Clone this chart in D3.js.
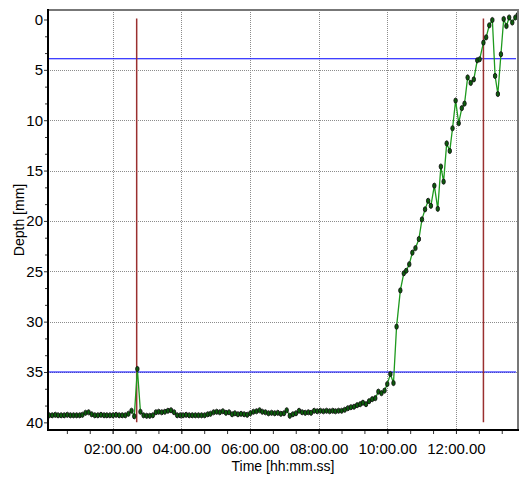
<!DOCTYPE html>
<html><head><meta charset="utf-8">
<script src="https://cdn.jsdelivr.net/npm/d3@7"></script>
<style>
html,body{margin:0;padding:0;background:#fff;}
svg{display:block;}
</style></head>
<body>
<svg id="chart" width="519" height="482"></svg>
<script>
// time in minutes
const times = [
0.15,0.24,0.33,0.41,0.50,0.59,0.68,0.77,0.86,0.95,1.04,1.12,1.21,1.30,1.39,1.48,1.57,1.66,1.75,1.83,
1.92,2.01,2.10,2.19,2.28,2.37,2.46,2.55,2.63,2.72,2.81,2.90,2.99,3.08,3.17,3.26,3.34,3.43,3.52,3.61,
3.70,3.79,3.88,3.97,4.05,4.14,4.23,4.32,4.41,4.50,4.59,4.68,4.77,4.85,4.94,5.03,5.12,5.21,5.30,5.39,
5.48,5.56,5.65,5.74,5.83,5.92,6.01,6.10,6.19,6.28,6.36,6.45,6.54,6.63,6.72,6.81,6.90,6.99,7.07,7.16,
7.25,7.34,7.43,7.52,7.61,7.70,7.78,7.87,7.96,8.05,8.14,8.23,8.32,8.41,8.49,8.58,8.67,8.76,8.85,8.94,
9.03,9.12,9.21,9.29,9.38,9.47,9.56,9.65,9.74,9.83,9.92,10.00,10.09,10.18,
10.27,10.38,10.48,10.55,10.64,10.73,10.82,10.92,11.01,11.10,11.19,11.27,11.37,11.47,11.56,11.64,11.73,11.82,11.90,11.99,
12.08,12.17,12.25,12.34,12.43,12.52,12.62,12.69,12.80,12.88,12.97,13.06,13.14,13.22,13.31,13.39,13.47,13.55,13.64,13.73,13.80
];
// depth in mm
const depths = [
39.3,39.3,39.25,39.3,39.3,39.3,39.25,39.3,39.3,39.3,39.3,39.25,39.05,39.0,39.2,39.3,39.3,39.25,39.3,39.3,
39.3,39.3,39.25,39.3,39.3,39.3,39.15,38.85,39.4,34.7,38.95,39.3,39.35,39.35,39.3,39.0,38.95,39.0,38.95,38.85,
38.8,39.0,39.3,39.3,39.3,39.25,39.3,39.3,39.3,39.3,39.3,39.3,39.2,39.15,39.0,38.95,39.0,38.9,39.05,39.0,
39.2,39.1,39.2,39.15,39.2,39.25,39.1,38.95,38.9,38.8,38.95,39.0,39.1,39.05,39.1,39.05,39.15,39.1,38.8,39.35,
39.2,39.1,38.85,39.0,39.05,39.0,39.05,38.85,38.9,38.85,38.9,38.85,38.9,38.85,38.9,38.85,38.85,38.75,38.6,38.5,
38.45,38.3,38.2,38.05,38.2,37.9,37.7,37.6,36.95,37.1,36.85,36.2,35.2,36.1,
30.5,26.9,25.2,24.95,24.3,23.15,22.7,21.8,19.85,18.85,18.0,18.5,16.5,18.8,14.6,16.1,12.3,13.05,10.8,8.05,
10.3,8.8,8.35,5.75,6.3,5.95,4.05,3.95,2.3,1.77,0.58,0.05,5.6,7.4,3.45,-0.05,0.65,-0.2,0.3,-0.2,-0.45
];
const xMajorTicks = [2,4,6,8,10,12];
const xTickLabels = ["02:00.00","04:00.00","06:00.00","08:00.00","10:00.00","12:00.00"];
const yMajorTicks = [0,5,10,15,20,25,30,35,40];
const limitDepths = [3.9, 35.0];
const eventTimes = [2.70, 12.80];
const eventRange = [0, 40];

const svg = d3.select("#chart");
const L = 48, R = 518, T = 10, B = 430;
const x = d3.scaleLinear().domain([0.117, 13.807]).range([L, R]);
const y = d3.scaleLinear().domain([-0.943, 40.76]).range([T, B]);

svg.append("defs").append("clipPath").attr("id","clip")
  .append("rect").attr("x",L).attr("y",T).attr("width",R-L).attr("height",B-T);

// grid
const grid = svg.append("g");
grid.selectAll("line.gx").data(xMajorTicks).join("line")
  .attr("x1", d=>Math.round(x(d))+0.5).attr("x2", d=>Math.round(x(d))+0.5)
  .attr("y1", T).attr("y2", B)
  .attr("stroke","#8c8c8c").attr("stroke-dasharray","1,1");
grid.selectAll("line.gy").data(yMajorTicks.filter(d=>d>0&&d<40)).join("line")
  .attr("y1", d=>Math.round(y(d))+0.5).attr("y2", d=>Math.round(y(d))+0.5)
  .attr("x1", L).attr("x2", R)
  .attr("stroke","#8c8c8c").attr("stroke-dasharray","1,1");

// limits
svg.append("g").selectAll("line").data(limitDepths).join("line")
  .attr("x1", L+1).attr("x2", R-2)
  .attr("y1", d=>y(d)).attr("y2", d=>y(d))
  .attr("stroke","#0000ff").attr("stroke-width",1.2);

// events
svg.append("g").selectAll("line").data(eventTimes).join("line")
  .attr("x1", d=>x(d)).attr("x2", d=>x(d))
  .attr("y1", y(eventRange[0])-1).attr("y2", y(eventRange[1]))
  .attr("stroke","#9a3030").attr("stroke-width",1.5);

const data = times.map((t,i)=>({t, d:depths[i]}));
const plot = svg.append("g").attr("clip-path","url(#clip)");
plot.append("path").datum(data)
  .attr("d", d3.line().x(p=>x(p.t)).y(p=>y(p.d)))
  .attr("fill","none").attr("stroke","#1e9a1e").attr("stroke-width",1.3);
plot.selectAll("ellipse").data(data).join("ellipse")
  .attr("cx", p=>x(p.t)).attr("cy", p=>y(p.d))
  .attr("rx",1.7).attr("ry",2.6)
  .attr("fill","#0b5e0b").attr("stroke","#111").attr("stroke-width",0.9);

// axes
const font = "'Liberation Sans Narrow','Arial Narrow','Liberation Sans',Arial,sans-serif";
const xMinor = d3.range(1,21).map(k=>k*2/3);
const gx = svg.append("g").attr("transform",`translate(0,${B})`)
  .call(d3.axisBottom(x).tickValues(xMinor).tickSize(4).tickFormat(""));
gx.select(".domain").remove();
gx.selectAll("line").attr("stroke","#333");
const gxl = svg.append("g").attr("transform",`translate(0,${B})`)
  .call(d3.axisBottom(x).tickValues(xMajorTicks).tickSize(4).tickPadding(9)
    .tickFormat((d,i)=>xTickLabels[i]));
gxl.select(".domain").remove();
gxl.selectAll("line").attr("stroke","#333");
gxl.selectAll("text").attr("font-family",font).attr("font-size",15).attr("fill","#000");

const yMinor = d3.range(1,25).map(k=>k*5/3).filter(v=>v%5>0.01&&v%5<4.99);
const gy = svg.append("g").attr("transform",`translate(${L},0)`)
  .call(d3.axisLeft(y).tickValues(yMinor).tickSize(3).tickFormat(""));
gy.select(".domain").remove();
gy.selectAll("line").attr("stroke","#333");
const gyl = svg.append("g").attr("transform",`translate(${L},0)`)
  .call(d3.axisLeft(y).tickValues(yMajorTicks).tickSize(4).tickPadding(1));
gyl.select(".domain").remove();
gyl.selectAll("line").attr("stroke","#333");
gyl.selectAll("text").attr("font-family",font).attr("font-size",15).attr("fill","#000");

// frame
svg.append("line").attr("x1",L-1).attr("x2",R+1).attr("y1",T).attr("y2",T).attr("stroke","#777").attr("stroke-width",2);
svg.append("line").attr("x1",R).attr("x2",R).attr("y1",T).attr("y2",B).attr("stroke","#777").attr("stroke-width",2);
svg.append("line").attr("x1",L).attr("x2",L).attr("y1",T-1).attr("y2",B+1).attr("stroke","#000").attr("stroke-width",2);
svg.append("line").attr("x1",L-1).attr("x2",R+1).attr("y1",B).attr("y2",B).attr("stroke","#000").attr("stroke-width",2);

// titles
svg.append("text").attr("x",(L+R)/2).attr("y",471).attr("text-anchor","middle")
  .attr("font-family","'Liberation Sans',Arial,sans-serif").attr("font-size",14).text("Time [hh:mm.ss]");
svg.append("text").attr("transform",`translate(24,${(T+B)/2}) rotate(-90)`).attr("text-anchor","middle")
  .attr("font-family","'Liberation Sans',Arial,sans-serif").attr("font-size",14).text("Depth [mm]");
</script>
</body></html>
